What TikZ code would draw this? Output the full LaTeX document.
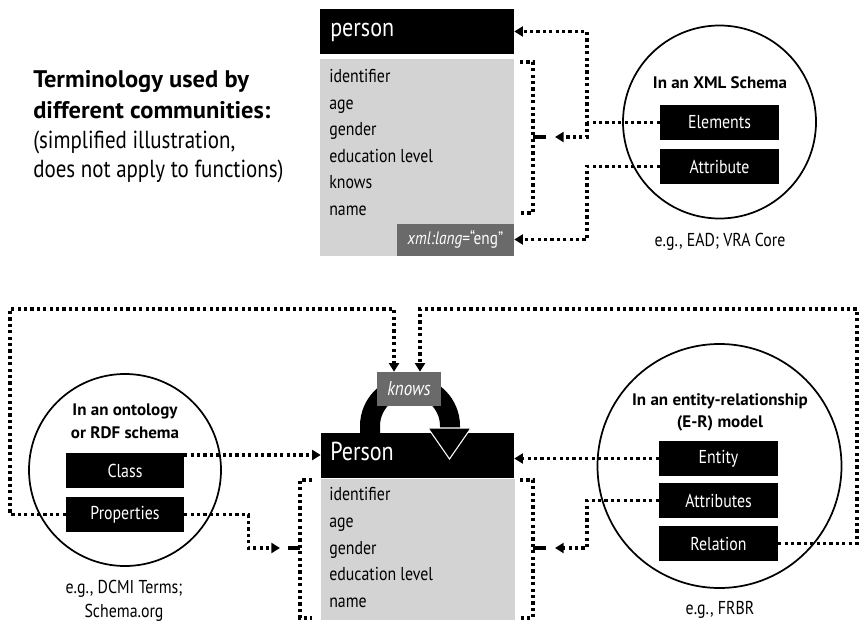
\documentclass[tikz,border=0pt]{standalone}
\usepackage{fontspec}
\setmainfont{PT Sans}[FakeStretch=0.85]
\newfontfamily\headfam{PT Sans}[FakeStretch=1.02]
\usetikzlibrary{arrows.meta}
\definecolor{bodygray}{HTML}{D3D3D3}
\definecolor{taggray}{HTML}{6A6A6A}
\newcommand\pxl[1]{#1*0.75pt}

\begin{document}
\begin{tikzpicture}[x=0.75pt,y=-0.75pt,
  dotline/.style={line width=2.4pt, dash pattern=on 2.4pt off 2.4pt},
  tipped/.style={dotline,-{Triangle[length=6.5pt,width=7.5pt]}},
  solidtick/.style={line width=2.4pt},
  headbox/.style={fill=black,inner sep=0pt,minimum height=\pxl{45},minimum width=\pxl{194}},
  headtext/.style={anchor=mid west,inner sep=0pt,text=white,font=\fontsize{19.5}{21}\selectfont},
  bodybox/.style={fill=bodygray,inner sep=0pt,minimum width=\pxl{194}},
  attr/.style={anchor=mid west,inner sep=0pt,font=\fontsize{14}{16}\selectfont},
  termbox/.style={fill=black,text=white,inner sep=0pt,minimum width=\pxl{119},
     minimum height=\pxl{35},font=\fontsize{14}{16}\selectfont},
  tagbox/.style={fill=taggray,text=white,inner sep=0pt,font=\fontsize{13.5}{15}\selectfont},
  ring/.style={circle,draw=black,line width=1.3pt,inner sep=0pt},
  ringtitle/.style={inner sep=0pt,align=center,font=\headfam\bfseries\fontsize{12.5}{17}\selectfont},
  note/.style={inner sep=0pt,align=center,font=\fontsize{14}{18}\selectfont},
  heading/.style={anchor=base west,inner sep=0pt,font=\headfam\bfseries\fontsize{18}{20}\selectfont},
  subheading/.style={anchor=base west,inner sep=0pt,font=\fontsize{18.5}{20}\selectfont}]

\useasboundingbox (0,0) rectangle (860,624);

% ---------- heading ----------
\node[heading] (h1) at (33,88) {Terminology used by};
\node[heading] (h2) at (33,119) {different communities:};
\node[subheading] (h3) at (33,149) {(simplified illustration,};
\node[subheading] (h4) at (33,178) {does not apply to functions)};

% ---------- XML element ----------
\node[bodybox,minimum height=\pxl{197}] (pbody) at (417,157.5) {};
\node[headbox] (phead) at (417,31.5) {};
\node[headtext] (pheadt) at (330,33) {person};
\foreach \t [count=\i] in {identifier,age,gender,education level,knows,name}
  \node[attr] (pa\i) at (329,52.5+26.6*\i) {\t};
\node[tagbox,minimum width=\pxl{117},minimum height=\pxl{32}] (xmllang) at (455.5,239.5)
  {\textit{xml:lang}=“eng”};

% bracket around the child elements
\coordinate (tb1) at (520,62);
\coordinate (tb2) at (520,213);
\draw[dotline] (tb1) -- (533,62) -- (533,213) -- (tb2);
\coordinate (tbm) at (546,137);
\draw[solidtick] (533,137) -- (tbm);

% XML Schema ring
\node[ring,minimum size=\pxl{193}] (cxml) at (719.5,122) {};
\node[ringtitle] (txml) at (720,83) {In an XML Schema};
\node[termbox] (elem) at (719.5,122.5) {Elements};
\node[termbox] (attrb) at (719.5,166.5) {Attribute};
\node[note] (nxml) at (720,242) {e.g., EAD; VRA Core};

\coordinate (jx) at (587,0);
\draw[tipped] (elem.west) -- (elem.west -| jx) |- (phead.east);
\draw[tipped,shorten >=\pxl{9}] (elem.west -| jx) |- (tbm);
\draw[tipped] (attrb.west) -- (attrb.west -| jx) |- (xmllang.east);

% ---------- class / entity ----------
\node[bodybox,minimum height=\pxl{141}] (bbody) at (417.5,549.5) {};
\node[headbox,minimum width=\pxl{193}] (bhead) at (417.5,455) {};
\node[headtext] (bheadt) at (330,457) {Person};
\foreach \t [count=\i] in {identifier,age,gender,education level,name}
  \node[attr] (ba\i) at (329,471+26.6*\i) {\t};

% self relation "knows": thick arc ending in an outlined arrow head
\draw[line width=15pt] (370,434) -- (370,426) arc[start angle=180,end angle=360,radius=40] -- (450,429);
\filldraw[fill=black,draw=white,line width=0.8pt] (428,428) -- (471,428) -- (449.5,459) -- cycle;
\node[tagbox,minimum width=\pxl{64},minimum height=\pxl{34},font=\itshape\fontsize{15}{17}\selectfont]
  (knows) at (409,389) {knows};

% brackets around the attributes
\coordinate (lb1) at (312,480);
\coordinate (lb2) at (312,618);
\draw[dotline] (lb1) -- (300,480) -- (300,618) -- (lb2);
\coordinate (lbm) at (288,548);
\draw[solidtick] (300,548) -- (lbm);
\coordinate (rb1) at (520,480);
\coordinate (rb2) at (520,618);
\draw[dotline] (rb1) -- (533,480) -- (533,618) -- (rb2);
\coordinate (rbm) at (546,548);
\draw[solidtick] (533,548) -- (rbm);

% ontology ring
\node[ring,minimum size=\pxl{192}] (conto) at (125,470) {};
\node[ringtitle] (tonto) at (125,421) {In an ontology\\or RDF schema};
\node[termbox,minimum width=\pxl{118}] (cls) at (125,470.5) {Class};
\node[termbox,minimum width=\pxl{118}] (props) at (125,514.5) {Properties};
\node[note] (nonto) at (124,601) {e.g., DCMI Terms;\\Schema.org};

% entity-relationship ring
\node[ring,minimum size=\pxl{244}] (cer) at (719.5,466) {};
\node[ringtitle] (ter) at (720,412.5) {In an entity-relationship\\(E-R) model};
\node[termbox] (ent) at (718.5,458.5) {Entity};
\node[termbox] (atts) at (718.5,500.5) {Attributes};
\node[termbox] (rel) at (718.5,543.5) {Relation};
\node[note] (ner) at (720,610) {e.g., FRBR};

% connectors of the lower half
\draw[tipped] (cls.east |- bhead.west) -- (bhead.west);
\draw[tipped,shorten >=\pxl{8}] (props.east) -- ++(64,0) |- (lbm);
\draw[tipped] (ent.west) -- (ent.west -| bhead.east);
\draw[tipped,shorten >=\pxl{9}] (atts.west) -- (atts.west -| jx) |- (rbm);

\coordinate (kl) at (394,309);
\coordinate (kr) at (420,309);
\draw[tipped] (props.west) -- (props.west -| 10,0) |- (kl) -- (kl |- knows.north);
\draw[tipped] (rel.east) -- (rel.east -| 857,0) |- (kr) -- (kr |- knows.north);

\end{tikzpicture}
\end{document}
